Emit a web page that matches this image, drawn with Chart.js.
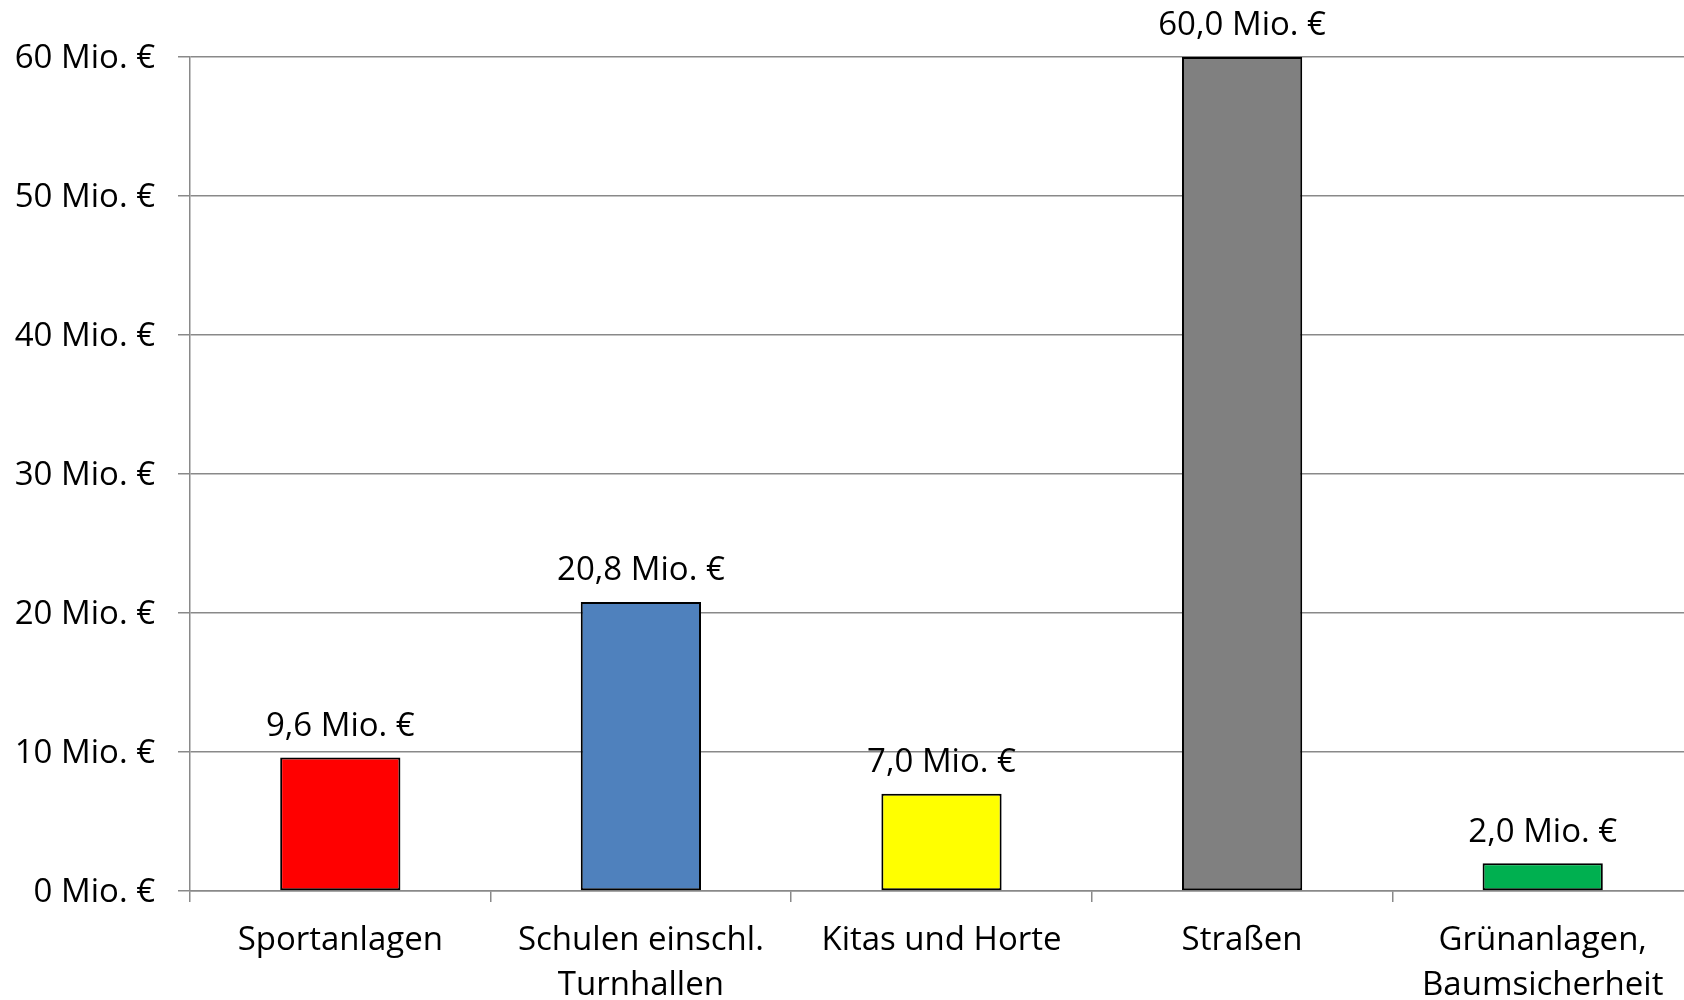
<!DOCTYPE html>
<html>
<head>
<meta charset="utf-8">
<script src="https://cdn.jsdelivr.net/npm/chart.js@4/dist/chart.umd.min.js"></script>
<style>
  html, body { margin: 0; padding: 0; background: #fff; overflow: hidden; }
  #wrap { width: 1700px; height: 1000px; position: relative; }
</style>
</head>
<body>
<div id="wrap"><canvas id="c"></canvas></div>
<script>
const categories = ['Sportanlagen', ['Schulen einschl.', 'Turnhallen'], 'Kitas und Horte', 'Straßen', ['Grünanlagen,', 'Baumsicherheit']];
const values = [9.6, 20.8, 7.0, 60.0, 2.0];
const barColors = ['#ff0000', '#4f81bd', '#ffff00', '#808080', '#00b050'];
const yTicks = [0, 10, 20, 30, 40, 50, 60];

const FONT = "'Open Sans', 'Noto Sans', sans-serif";
const fmt = v => v.toFixed(1).replace('.', ',') + ' Mio. €';

const valueLabels = {
  id: 'valueLabels',
  afterDatasetsDraw(chart) {
    const ctx = chart.ctx;
    const meta = chart.getDatasetMeta(0);
    ctx.save();
    ctx.font = '33px ' + FONT;
    ctx.fillStyle = '#000';
    ctx.textAlign = 'center';
    ctx.textBaseline = 'middle';
    meta.data.forEach((bar, i) => {
      ctx.fillText(fmt(values[i]), bar.x, bar.y - 31);
    });
    ctx.restore();
  }
};

Chart.defaults.color = '#000';
new Chart(document.getElementById('c'), {
  type: 'bar',
  data: {
    labels: categories,
    datasets: [{
      data: values,
      backgroundColor: barColors,
      borderColor: '#000',
      borderWidth: 2,
      borderSkipped: false,
      barPercentage: 0.4,
      categoryPercentage: 1.0
    }]
  },
  options: {
    responsive: true,
    maintainAspectRatio: false,
    animation: false,
    layout: { padding: { top: 57, right: 7, left: 0, bottom: 0 } },
    plugins: { legend: { display: false }, tooltip: { enabled: false } },
    scales: {
      x: {
        offset: true,
        grid: { offset: true, drawOnChartArea: false, drawTicks: true, tickLength: 11, color: '#898989', lineWidth: 1.5 },
        border: { display: true, color: '#898989', width: 1.5 },
        ticks: { font: { family: FONT, size: 33, lineHeight: 1.36 }, padding: 16, maxRotation: 0, autoSkip: false },
        afterFit(s) { s.height = 109; }
      },
      y: {
        min: 0, max: 60,
        afterBuildTicks(s) { s.ticks = yTicks.map(v => ({ value: v })); },
        grid: { color: '#898989', lineWidth: 1.5, tickLength: 12 },
        border: { display: true, color: '#898989', width: 1.5 },
        ticks: { font: { family: FONT, size: 33 }, padding: 23, labelOffset: 2, callback: v => v + ' Mio. €' },
        afterFit(s) { s.width = 190; }
      }
    }
  },
  plugins: [valueLabels]
});
</script>
</body>
</html>
